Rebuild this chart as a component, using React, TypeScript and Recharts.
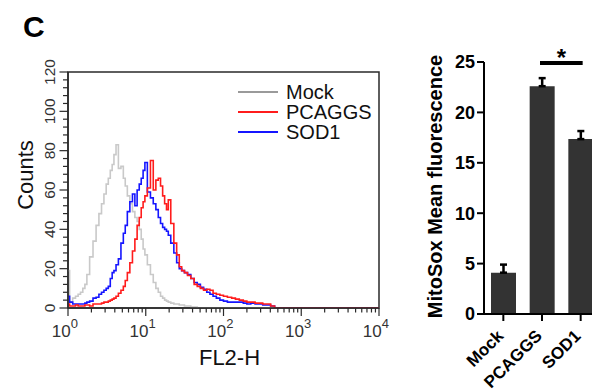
import React from 'react';
import {
  LineChart,
  Line,
  XAxis,
  YAxis,
  ReferenceArea,
  Legend,
  BarChart,
  Bar,
  ErrorBar,
  ReferenceLine,
} from 'recharts';

// ── Histogram data (FL2-H channel → counts) ───────────────────────────────────
const FL2H = [
  1, 1.1, 1.2, 1.3, 1.4, 1.5, 1.6, 1.7, 1.8, 2, 2.2, 2.4, 2.6, 2.8, 3, 3.2, 3.4, 3.6, 3.8, 4,
  4.3, 4.6, 5, 5.3, 5.6, 6, 6.5, 7, 7.5, 8, 8.5, 9, 9.5, 10, 11, 12, 13, 14, 15, 16,
  17, 18, 19, 20, 22, 24, 26, 28, 30, 33, 36, 40, 44, 48, 53, 58, 64, 70, 77, 85,
  95, 105, 120, 135, 150, 170, 190, 210, 240, 270, 300, 340, 380, 430, 480, 10000,
];
const MOCK_COUNTS = [
  19, 3, 5, 6, 7, 8, 10, 12, 17, 26, 34, 42, 48, 53, 58, 63, 66, 70, 73, 78,
  83, 71, 72, 66, 62, 57, 53, 49, 46, 44, 40, 35, 30, 27, 22, 17, 13, 10, 8, 6,
  5, 4, 3.5, 3, 2.5, 2, 2, 1.5, 1.5, 1, 1, 0.5, 0.5, 0, 0, 0, 0, 0, 0, 0,
  0, 0, 0, 0, 0, 0, 0, 0, 0, 0, 0, 0, 0, 0, 0, 0,
];
const PCAGGS_COUNTS = [
  2, 1, 1, 1.5, 1, 1, 1, 1.5, 1.5, 1, 2, 2, 2, 2.5, 3, 3, 3.5, 4, 4.5, 5,
  6, 7.5, 9, 11, 14, 18, 23, 29, 35, 42, 46, 51, 54, 57, 61, 75, 60, 65, 66, 62,
  57, 53, 50, 55, 43, 33, 27, 21, 19, 18, 16.5, 15, 12, 11, 10, 9, 9.5, 9, 7.5, 7,
  6.5, 6, 5.5, 5, 4.5, 4, 3.5, 3, 3, 2.5, 2.5, 2, 2, 1, 0, 0,
];
const SOD1_COUNTS = [
  6, 3, 2, 2, 2, 2, 2, 2.5, 3, 3.5, 5, 5.5, 7, 8, 9, 10, 11, 15, 18, 19,
  22, 25, 33, 38, 42, 49, 54, 58, 52, 60, 63, 66, 70, 74, 59, 56, 53, 50, 46, 43,
  41, 40, 39, 37, 33, 28, 23, 20, 19, 18, 17, 15, 13, 12, 10.5, 9.5, 8, 7, 6, 5,
  4, 3.5, 3, 3, 3, 3, 2.5, 2, 2.5, 2, 2, 1.5, 1.5, 1, 0, 0,
];

const DECADES = [1, 10, 100, 1000, 10000];
const MINOR_STEPS = [2, 3, 4, 5, 6, 7, 8, 9];
const COUNT_MAJORS = [0, 20, 40, 60, 80, 100, 120];

const SERIES = ['Mock', 'PCAGGS', 'SOD1'];

// ── Bar data ──────────────────────────────────────────────────────────────────
const GROUPS = ['Mock', 'PCAGGS', 'SOD1'];
const MEANS = [4.1, 22.6, 17.35];
const SEMS = [0.8, 0.8, 0.8];
const BAR_TICKS = [0, 5, 10, 15, 20, 25];

// ── Constants ─────────────────────────────────────────────────────────────────
const FONT = '"Liberation Sans", Arial, Helvetica, sans-serif';
const AXIS = '#2a2a2a';
const TEXT = '#333';
const GRAY = '#c9c9c9';
const RED = '#ff1c1c';
const BLUE = '#1515ff';
const LEGEND_COLORS = ['#9a9a9a', RED, BLUE];
const BAR_FILL = '#333333';

const histRows = FL2H.map((v, i) => ({
  fl2h: v,
  mock: MOCK_COUNTS[i],
  pcaggs: PCAGGS_COUNTS[i],
  sod1: SOD1_COUNTS[i],
}));

const logTicks = DECADES.flatMap((d, i) =>
  i < DECADES.length - 1 ? [d, ...MINOR_STEPS.map(m => m * d)] : [d]
);
const countTicks = Array.from({ length: 31 }, (_, i) => i * 4);

const barRows = GROUPS.map((g, i) => ({
  name: g,
  mean: MEANS[i],
  err: [0, SEMS[i]],
}));

// ── Histogram axis pieces ─────────────────────────────────────────────────────
function LogTick({ x, y, payload }: any) {
  const v = payload.value;
  const exp = Math.round(Math.log10(v));
  const major = Math.abs(Math.pow(10, exp) - v) < 1e-6;
  return (
    <g>
      <line x1={x} x2={x} y1={y} y2={y + (major ? 8 : 4.5)} stroke={AXIS} strokeWidth={1.2} />
      {major && (
        <text x={x + 10} y={y + 29} textAnchor="end" fontSize={17} fill={TEXT} fontFamily={FONT}>
          10
          <tspan dy={-9} fontSize={13}>{exp}</tspan>
        </text>
      )}
    </g>
  );
}

function CountTick({ x, y, payload }: any) {
  const major = COUNT_MAJORS.includes(payload.value);
  const tx = x - 13;
  return (
    <g>
      <line x1={x} x2={x - (major ? 8.5 : 5)} y1={y} y2={y} stroke={AXIS} strokeWidth={1.2} />
      {major && (
        <text
          x={tx}
          y={y}
          transform={`rotate(-90 ${tx} ${y})`}
          textAnchor="middle"
          fontSize={15.5}
          fill={TEXT}
          fontFamily={FONT}
        >
          {payload.value}
        </text>
      )}
    </g>
  );
}

function CountsTitle({ viewBox }: any) {
  const x = 33;
  const y = viewBox.y + viewBox.height / 2 - 15;
  return (
    <text x={x} y={y} transform={`rotate(-90 ${x} ${y})`} textAnchor="middle" fontSize={22} fill="#111" fontFamily={FONT}>
      Counts
    </text>
  );
}

function Fl2Title({ viewBox }: any) {
  return (
    <text x={viewBox.x + viewBox.width / 2 + 6} y={viewBox.y + 57} textAnchor="middle" fontSize={22} fill="#111" fontFamily={FONT}>
      FL2-H
    </text>
  );
}

function HistLegend() {
  return (
    <div style={{ fontFamily: FONT, fontSize: 20, color: '#111' }}>
      {SERIES.map((name, i) => (
        <div key={name} style={{ display: 'flex', alignItems: 'center', height: 20.3, lineHeight: '20.3px' }}>
          <span
            style={{
              display: 'inline-block',
              width: 40,
              height: 0,
              borderTop: `2.5px solid ${LEGEND_COLORS[i]}`,
              marginRight: 8,
            }}
          />
          <span>{name}</span>
        </div>
      ))}
    </div>
  );
}

// ── Bar axis pieces ───────────────────────────────────────────────────────────
function GroupTick({ x, y, payload }: any) {
  const ax = x + 1;
  const ay = y + 14;
  return (
    <text
      x={ax}
      y={ay}
      transform={`rotate(-45 ${ax} ${ay})`}
      textAnchor="end"
      fontSize={17}
      fontWeight={700}
      fill="#000"
      fontFamily={FONT}
    >
      {payload.value}
    </text>
  );
}

function MeanTitle({ viewBox }: any) {
  const x = 62;
  const y = viewBox.y + viewBox.height / 2 - 1.5;
  return (
    <text
      x={x}
      y={y}
      transform={`rotate(-90 ${x} ${y})`}
      textAnchor="middle"
      fontSize={20}
      fontWeight={700}
      fill="#000"
      fontFamily={FONT}
    >
      MitoSox Mean fluorescence
    </text>
  );
}

// ── Component ─────────────────────────────────────────────────────────────────
export default function App() {
  return (
    <div
      style={{
        position: 'fixed',
        left: 0,
        top: 0,
        width: 592,
        height: 392,
        overflow: 'hidden',
        background: '#fff',
        fontFamily: FONT,
      }}
    >
      <div style={{ position: 'absolute', left: 23, top: 11.5, fontSize: 30, fontWeight: 700, lineHeight: '30px', color: '#000' }}>
        C
      </div>

      <div style={{ position: 'absolute', left: 0, top: 0 }}>
        <LineChart width={400} height={392} data={histRows} margin={{ top: 72, right: 21, bottom: 24, left: 0 }}>
          <XAxis
            dataKey="fl2h"
            type="number"
            scale="log"
            domain={[1, 10000]}
            ticks={logTicks}
            interval={0}
            allowDataOverflow
            tick={<LogTick />}
            tickLine={false}
            tickSize={0}
            tickMargin={0}
            axisLine={{ stroke: AXIS, strokeWidth: 1.5 }}
            height={60}
            label={(props: any) => <Fl2Title {...props} />}
          />
          <YAxis
            type="number"
            domain={[0, 120]}
            ticks={countTicks}
            interval={0}
            allowDataOverflow
            tick={<CountTick />}
            tickLine={false}
            tickSize={0}
            tickMargin={0}
            axisLine={{ stroke: AXIS, strokeWidth: 1.5 }}
            width={68}
            label={(props: any) => <CountsTitle {...props} />}
          />
          <ReferenceArea
            x1={1}
            x2={10000}
            y1={0}
            y2={120}
            fill="none"
            fillOpacity={0}
            stroke={AXIS}
            strokeWidth={1.5}
            ifOverflow="visible"
          />
          <Line dataKey="mock" name="Mock" type="step" stroke={GRAY} strokeWidth={1.6} dot={false} isAnimationActive={false} />
          <Line dataKey="sod1" name="SOD1" type="step" stroke={BLUE} strokeWidth={1.6} dot={false} isAnimationActive={false} />
          <Line dataKey="pcaggs" name="PCAGGS" type="step" stroke={RED} strokeWidth={1.6} dot={false} isAnimationActive={false} />
          <Legend
            layout="vertical"
            align="center"
            verticalAlign="middle"
            content={<HistLegend />}
            wrapperStyle={{ left: 238, top: 81.5, width: 150 }}
          />
        </LineChart>
      </div>

      <div style={{ position: 'absolute', left: 380, top: 0 }}>
        <BarChart width={240} height={392} data={barRows} margin={{ top: 62, right: 20, bottom: 18, left: 0 }}>
          <XAxis
            dataKey="name"
            interval={0}
            height={60}
            tick={<GroupTick />}
            tickSize={7}
            tickMargin={2}
            tickLine={{ stroke: '#000', strokeWidth: 2 }}
            axisLine={{ stroke: '#000', strokeWidth: 2 }}
          />
          <YAxis
            type="number"
            domain={[0, 25]}
            ticks={BAR_TICKS}
            interval={0}
            width={104}
            tickSize={7}
            tickMargin={2}
            tick={{ fontSize: 18, fontWeight: 700, fill: '#000', fontFamily: FONT }}
            tickLine={{ stroke: '#000', strokeWidth: 2 }}
            axisLine={{ stroke: '#000', strokeWidth: 2 }}
            label={(props: any) => <MeanTitle {...props} />}
          />
          <Bar dataKey="mean" fill={BAR_FILL} barSize={25} isAnimationActive={false}>
            <ErrorBar dataKey="err" direction="y" width={3.5} strokeWidth={2.5} stroke="#000" />
          </Bar>
          <ReferenceLine
            segment={[{ x: 'PCAGGS', y: 24.9 }, { x: 'SOD1', y: 24.9 }]}
            stroke="#000"
            strokeWidth={4}
            strokeLinecap="square"
            ifOverflow="visible"
            label={{ value: '*', position: 'top', offset: -3, fontSize: 24, fontWeight: 700, fill: '#000' }}
          />
        </BarChart>
      </div>
    </div>
  );
}
